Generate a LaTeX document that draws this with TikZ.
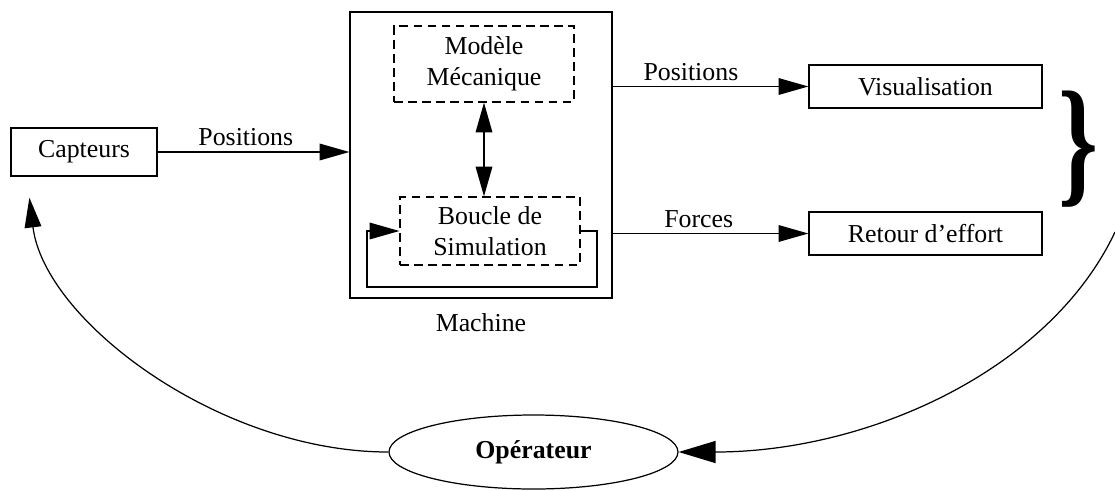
\documentclass[tikz,border=0pt]{standalone}
\usepackage{fontspec}
\setmainfont{Liberation Serif}
\usetikzlibrary{arrows.meta,shapes.geometric}

\begin{document}
\fontsize{14.7}{17.5}\selectfont
\begin{tikzpicture}[line width=0.7pt, >={Triangle[length=17pt,width=9.5pt]},
    box/.style={draw, rectangle, inner sep=0pt, align=center},
    dbox/.style={box, dash pattern=on 5pt off 3pt},
    lbl/.style={above, inner sep=3pt}]
    \useasboundingbox (0,0) rectangle (22.3,-9.8);

    % Left side
    \node[box, minimum width=2.92cm, minimum height=0.96cm] (capteurs) at (1.68,-3.04) {Capteurs};
    \node[box, minimum width=5.24cm, minimum height=5.72cm] (machine) at (9.62,-3.10) {};
    \node (machinelbl) at (9.62,-6.46) {Machine};
    \node[dbox, minimum width=3.6cm, minimum height=1.52cm] (modele) at (9.68,-1.28) {Modèle\\Mécanique};
    \node[dbox, minimum width=3.6cm, minimum height=1.36cm] (boucle) at (9.80,-4.62) {Boucle de\\Simulation};

    % Right side
    \node[box, minimum width=4.66cm, minimum height=0.86cm] (visu) at (18.51,-1.73) {Visualisation};
    \node[box, minimum width=4.66cm, minimum height=0.86cm] (retour) at (18.51,-4.67) {Retour d’effort};
    \node (accolade) at (21.57,-2.98) {\scalebox{0.72}[1]{\fontsize{80}{80}\selectfont\bfseries\}}};

    \node[draw, ellipse, minimum width=5.78cm, minimum height=1.48cm, font=\bfseries] (op) at (10.67,-9.04) {Opérateur};

    \draw[->] (capteurs) -- node[lbl, pos=0.46] {Positions} (capteurs -| machine.west);
    \draw[->] (machine.east |- visu) -- node[lbl, pos=0.40] {Positions} (visu);
    \draw[->] (machine.east |- retour) -- node[lbl, pos=0.44] {Forces} (retour);
    \draw[<->] (modele.south) -- (modele.south |- boucle.north);

    % Simulation loop
    \coordinate (lr) at (11.94,-5.74);
    \coordinate (ll) at (7.34,-5.74);
    \draw[->] (boucle.east) -| (lr) -- (ll) |- (boucle.west);

    % Feedback through the operator
    \coordinate (cin) at ([xshift=0.38cm,yshift=-0.42cm]capteurs.south west);
    \coordinate (rin) at (22.3,-4.64);
    \draw[->] (op.west) .. controls +(-3.38,0) and +(0.3,-2.46) .. (cin);
    \draw[-{Triangle[length=21pt,width=12.5pt]}] (rin) .. controls +(-1.3,-2.76) and +(3.8,0) .. (op.east);

\end{tikzpicture}
\end{document}
